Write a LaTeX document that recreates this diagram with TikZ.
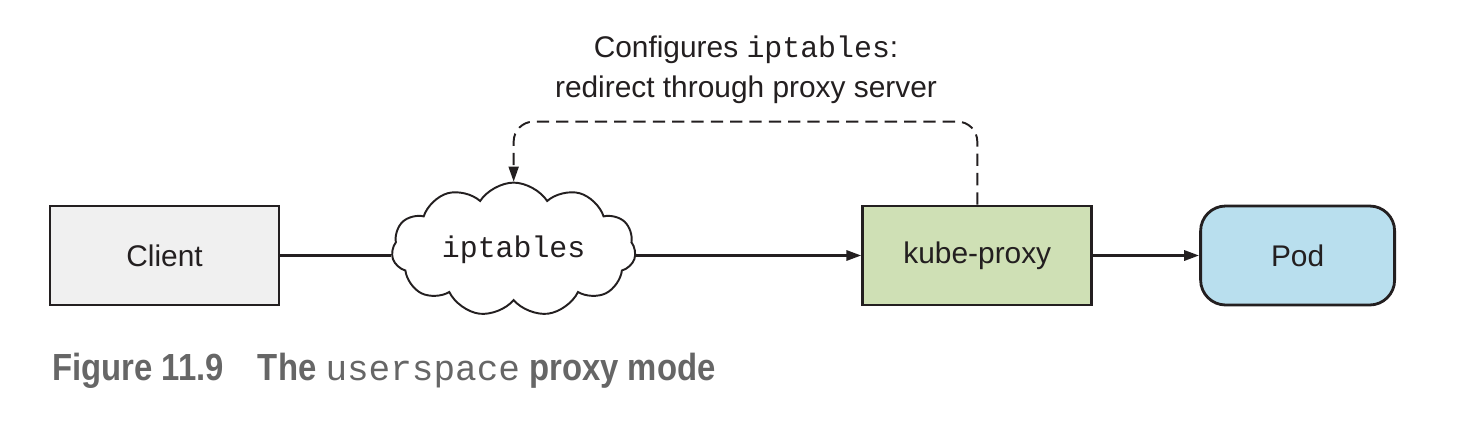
\documentclass[tikz,border=0pt]{standalone}
\usepackage{fontspec}
\setmainfont{Liberation Sans}
\setmonofont{Liberation Mono}
\newfontfamily\capfont{Liberation Sans}[FakeStretch=0.87]
\usepackage{tikz}
\usetikzlibrary{positioning,arrows.meta,shapes.symbols,calc}
\definecolor{cline}{HTML}{231F20}
\definecolor{cclient}{HTML}{F0F0F0}
\definecolor{cproxy}{HTML}{CFE0B5}
\definecolor{cpod}{HTML}{B9DFEE}
\definecolor{ccap}{HTML}{666666}
\tikzset{
  box/.style={rectangle, draw=cline, line width=1.6pt, minimum width=4.58cm,
              minimum height=1.98cm, font=\fontsize{17}{22}\selectfont, text=cline},
  podbox/.style={box, rounded corners=0.5cm, minimum width=3.88cm},
  rules/.style={cloud, cloud puffs=11, cloud puff arc=115, aspect=1.9, draw=cline,
                line width=1.1pt, fill=white, minimum width=4.88cm, minimum height=2.6cm,
                inner sep=0pt, font=\ttfamily\fontsize{17}{22}\selectfont, text=cline},
  flow/.style={-{Triangle[length=3mm,width=2mm]}, line width=1.7pt, draw=cline},
  link/.style={line width=1.7pt, draw=cline},
  dashflow/.style={-{Triangle[length=3mm,width=2mm]}, line width=1.1pt, draw=cline,
                   dash pattern=on 7pt off 4pt, rounded corners=0.4cm}
}
\begin{document}
\begin{tikzpicture}[node distance=0.5cm and 2.12cm]
\useasboundingbox (0,0) rectangle (29.44,8.48);
\node[box, fill=cclient] (cl) at (3.29,3.37) {Client};
\node[rules, right=2.22cm of cl, yshift=0.12cm] (ipt) {iptables};
\node[box, fill=cproxy, right=4.51cm of ipt.east |- cl.east, anchor=west] (kp) {kube-proxy};
\node[podbox, fill=cpod, right=of kp] (pod) {Pod};
\draw[link] (cl.east) -- (cl.east -| ipt.west);
\draw[flow] (ipt.east |- kp.west) -- (kp.west);
\draw[flow] (kp) -- (pod);
\draw[dashflow] (kp.north) -- ++(0,1.66) -| (ipt.north);
\node[align=center, text=cline, font=\fontsize{17}{22.5}\selectfont] (note) at (14.92,7.08)
  {Configures \texttt{iptables}:\\redirect through proxy server};
\node[anchor=west, text=ccap, font=\capfont\bfseries\fontsize{21.5}{26}\selectfont] (cap) at (0.92,1.06)
  {Figure 11.9\hspace{0.9em}The {\mdseries\ttfamily\fontsize{20.5}{26}\selectfont userspace} proxy mode};
\end{tikzpicture}
\end{document}
